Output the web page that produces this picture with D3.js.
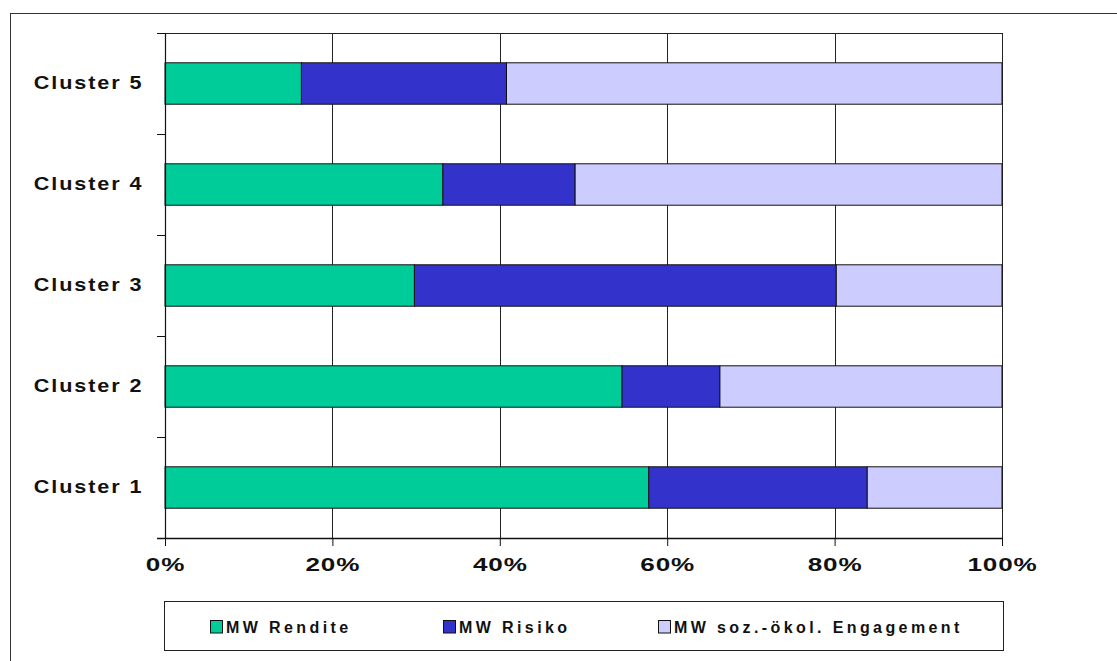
<!DOCTYPE html>
<html>
<head>
<meta charset="utf-8">
<script src="https://cdn.jsdelivr.net/npm/d3@7"></script>
<style>
  html, body { margin: 0; padding: 0; background: #fff; }
  svg { display: block; font-family: "Liberation Sans", Arial, sans-serif; font-weight: bold; }
</style>
</head>
<body>
<svg id="chart" width="1117" height="661"></svg>
<script>
// ---- data ----
const categories = ["Cluster 1", "Cluster 2", "Cluster 3", "Cluster 4", "Cluster 5"];
const seriesNames = ["MW Rendite", "MW Risiko", "MW soz.-ökol. Engagement"];
const rendite    = [57.8, 54.6, 29.8, 33.2, 16.3];
const risiko     = [26.1, 11.7, 50.4, 15.8, 24.5];
const engagement = [16.1, 33.7, 19.8, 51.0, 59.2];
const xTicks = [0, 0.2, 0.4, 0.6, 0.8, 1.0];
const colors = ["#00CC99", "#3333CC", "#CCCCFF"];

// ---- build table ----
const keys = ["rendite", "risiko", "engagement"];
const table = categories.map((c, i) => ({
  cat: c, rendite: rendite[i], risiko: risiko[i], engagement: engagement[i]
}));
const stacked = d3.stack().keys(keys).offset(d3.stackOffsetExpand)(table);

const svg = d3.select("#chart");
const plot = { left: 165, right: 1002, top: 33, bottom: 538 };

// outer frame
svg.append("rect")
  .attr("x", 10.5).attr("y", 13.5).attr("width", 1130).attr("height", 680)
  .attr("fill", "#fff").attr("stroke", "#333").attr("stroke-width", 1);

const x = d3.scaleLinear().domain([0, 1]).range([plot.left, plot.right]);
const y = d3.scaleBand()
  .domain(categories.slice().reverse())
  .range([plot.top, plot.bottom])
  .paddingInner(0.59).paddingOuter(0.295);

// vertical gridlines
svg.append("g").selectAll("line")
  .data(xTicks.slice(1))
  .join("line")
  .attr("x1", d => Math.round(x(d)) + 0.5).attr("x2", d => Math.round(x(d)) + 0.5)
  .attr("y1", plot.top).attr("y2", plot.bottom)
  .attr("stroke", "#222").attr("stroke-width", 1);

// top border of plot area
svg.append("line")
  .attr("x1", plot.left).attr("x2", plot.right + 0.5)
  .attr("y1", plot.top + 0.5).attr("y2", plot.top + 0.5)
  .attr("stroke", "#222");

// bars
svg.append("g").selectAll("g")
  .data(stacked)
  .join("g")
  .attr("fill", (d, i) => colors[i])
  .selectAll("rect")
  .data(d => d)
  .join("rect")
  .attr("x", d => x(d[0]))
  .attr("width", d => x(d[1]) - x(d[0]))
  .attr("y", d => y(d.data.cat))
  .attr("height", y.bandwidth())
  .attr("stroke", "#111").attr("stroke-width", 1);

// x axis
const xAxis = d3.axisBottom(x)
  .tickValues(xTicks)
  .tickFormat(d3.format(".0%"))
  .tickSize(8).tickPadding(12);
const gx = svg.append("g")
  .attr("transform", `translate(0,${plot.bottom})`)
  .call(xAxis);
gx.select(".domain").attr("stroke", "#111").attr("stroke-width", 1.5)
  .attr("d", `M${plot.left - 8},0.5H${plot.right + 0.5}`);
gx.selectAll(".tick line").attr("stroke", "#111");
gx.selectAll(".tick text")
  .attr("fill", "#111")
  .attr("font-size", 18)
  .attr("font-family", "Liberation Sans, Arial, sans-serif")
  .attr("font-weight", "bold")
  .attr("letter-spacing", "0.6px")
  .attr("transform", "scale(1.45,1)");

// y axis (labels at band centres, ticks at band boundaries)
const yAxis = d3.axisLeft(y).tickSize(0).tickPadding(18);
const gy = svg.append("g")
  .attr("transform", `translate(${plot.left},0)`)
  .call(yAxis);
gy.select(".domain").attr("stroke", "#111").attr("stroke-width", 1.2)
  .attr("d", `M0.5,${plot.top}V${plot.bottom}`);
gy.selectAll(".tick text")
  .attr("fill", "#111")
  .attr("font-size", 18)
  .attr("font-family", "Liberation Sans, Arial, sans-serif")
  .attr("font-weight", "bold")
  .attr("letter-spacing", "1.6px")
  .attr("transform", "scale(1.2,1)");

const boundaries = d3.range(categories.length + 1).map(i => plot.top + i * y.step());
svg.append("g").selectAll("line")
  .data(boundaries)
  .join("line")
  .attr("x1", plot.left - 8).attr("x2", plot.left)
  .attr("y1", d => Math.round(d) + 0.5).attr("y2", d => Math.round(d) + 0.5)
  .attr("stroke", "#111");

// legend
const legend = svg.append("g");
legend.append("rect")
  .attr("x", 164.5).attr("y", 601.5).attr("width", 839).attr("height", 49)
  .attr("fill", "#fff").attr("stroke", "#222").attr("stroke-width", 1);
const legendX = [210, 443, 658];
const items = legend.selectAll("g.item")
  .data(seriesNames)
  .join("g").attr("class", "item")
  .attr("transform", (d, i) => `translate(${legendX[i]},620)`);
items.append("rect")
  .attr("x", 0.5).attr("y", 0.5).attr("width", 12).attr("height", 12.5)
  .attr("fill", (d, i) => colors[i]).attr("stroke", "#111");
items.append("text")
  .attr("x", 16).attr("y", 12.5)
  .attr("font-size", 16)
  .attr("letter-spacing", "3.4px")
  .attr("fill", "#111")
  .text(d => d);
</script>
</body>
</html>
